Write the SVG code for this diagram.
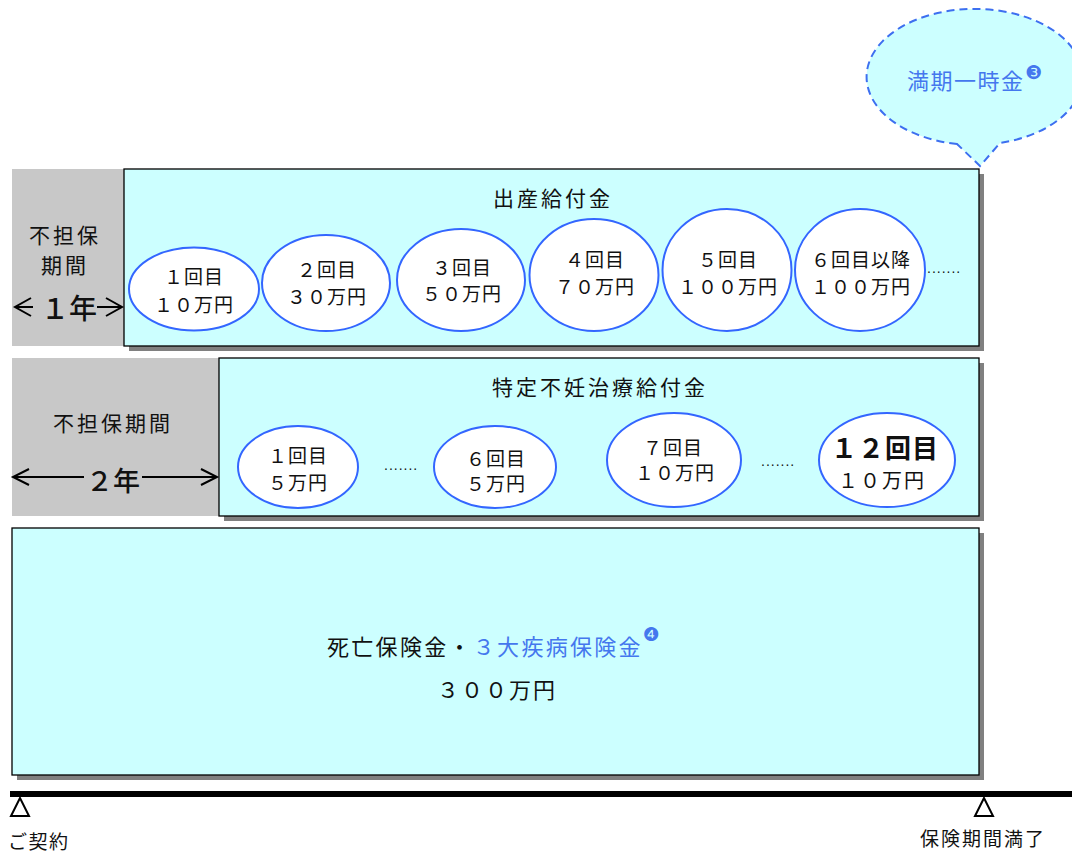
<svg xmlns="http://www.w3.org/2000/svg" width="1072" height="853" viewBox="0 0 1072 853">
<style>
.shadow{fill:#808080}
.box{fill:#CCFFFF;stroke:#000;stroke-width:1.3}
.gray{fill:#C8C8C8}
.oval{fill:#fff;stroke:#3366FF;stroke-width:2}
.t{font-family:"Noto Sans CJK JP","Noto Sans",sans-serif;fill:#111;text-anchor:middle;dominant-baseline:central}
.c{font-size:19px;letter-spacing:1px}
.h{font-size:21px;letter-spacing:3px}
.blue{fill:#4477EE}
.sup{font-family:"DejaVu Sans",sans-serif;font-size:19px;fill:#4477EE}
.dots{font-family:"Liberation Sans",sans-serif;font-size:14px;fill:#111;letter-spacing:1px}
.arr{fill:none;stroke:#000;stroke-width:2}
</style>
<rect width="1072" height="853" fill="#fff"/>

<g id="callout">
<path d="M957,144 A108,68 0 1 1 1000,143 L980,166 Z" fill="#CCFFFF" stroke="#3D6FF0" stroke-width="2" stroke-dasharray="8 5"/>
<text class="t blue" x="907" y="79" style="text-anchor:start;font-size:22px;letter-spacing:1.5px">満期一時金</text>
<text class="sup" x="1025" y="79">❸</text>
</g>

<g id="block1">
<rect class="gray" x="12" y="169" width="112" height="177"/>
<rect class="shadow" x="129" y="174" width="855" height="177"/>
<rect class="box" x="124" y="169" width="855" height="177"/>
<text class="t h" x="65" y="234">不担保</text>
<text class="t h" x="65" y="264">期間</text>
<text class="t" x="69" y="307" style="font-size:28px;font-weight:500">１年</text>
<text class="t h" x="553" y="197">出産給付金</text>
</g>
<g id="c1-1"><ellipse class="oval" cx="194" cy="289" rx="65" ry="41.5"/><text class="t c" x="194" y="275">１回目</text><text class="t c" x="194" y="303">１０万円</text></g>
<g id="c1-2"><ellipse class="oval" cx="326" cy="283" rx="64" ry="48"/><text class="t c" x="327" y="268">２回目</text><text class="t c" x="327" y="295">３０万円</text></g>
<g id="c1-3"><ellipse class="oval" cx="461" cy="280" rx="64" ry="51"/><text class="t c" x="462" y="266">３回目</text><text class="t c" x="462" y="292">５０万円</text></g>
<g id="c1-4"><ellipse class="oval" cx="594" cy="275" rx="64.5" ry="56"/><text class="t c" x="595" y="258">４回目</text><text class="t c" x="595" y="285">７０万円</text></g>
<g id="c1-5"><ellipse class="oval" cx="727" cy="270" rx="64.5" ry="61"/><text class="t c" x="728" y="258">５回目</text><text class="t c" x="728" y="285">１００万円</text></g>
<g id="c1-6"><ellipse class="oval" cx="860" cy="270" rx="65" ry="61"/><text class="t c" x="861" y="258">６回目以降</text><text class="t c" x="861" y="285">１００万円</text></g>
<text class="dots" x="927" y="273">.......</text>

<g id="block2">
<rect class="gray" x="12" y="358" width="207" height="158"/>
<rect class="shadow" x="224" y="363" width="760" height="158"/>
<rect class="box" x="219" y="358" width="760" height="158"/>
<text class="t h" x="113" y="422">不担保期間</text>
<text class="t" x="113" y="479" style="font-size:27px;font-weight:500">２年</text>
<text class="t h" x="600" y="386">特定不妊治療給付金</text>
</g>
<g id="c2-1"><ellipse class="oval" cx="298" cy="467" rx="60" ry="41"/><text class="t c" x="298" y="454">１回目</text><text class="t c" x="298" y="481">５万円</text></g>
<text class="dots" x="384" y="470">.......</text>
<g id="c2-6"><ellipse class="oval" cx="495" cy="467" rx="61" ry="41"/><text class="t c" x="496" y="457">６回目</text><text class="t c" x="496" y="482">５万円</text></g>
<g id="c2-7"><ellipse class="oval" cx="674" cy="460" rx="67" ry="47"/><text class="t c" x="673" y="446">７回目</text><text class="t c" x="675" y="471">１０万円</text></g>
<text class="dots" x="761" y="466">.......</text>
<g id="c2-12"><ellipse class="oval" cx="887" cy="460" rx="68" ry="47"/><text class="t" x="885" y="446" style="font-size:26px;font-weight:bold;letter-spacing:1px">１２回目</text><text class="t" x="882" y="479" style="font-size:20px;letter-spacing:2px">１０万円</text></g>

<g id="block3">
<rect class="shadow" x="17" y="533" width="967" height="247"/>
<rect class="box" x="12" y="528" width="967" height="247"/>
<text class="t" x="327" y="645" style="text-anchor:start;font-size:22px;letter-spacing:2.3px">死亡保険金・<tspan class="blue">３大疾病保険金</tspan></text>
<text class="sup" x="643" y="641">❹</text>
<text class="t" x="497" y="688" style="font-size:22px;letter-spacing:2px">３００万円</text>
</g>

<g id="timeline">
<rect x="10" y="791" width="1062" height="6" fill="#000"/>
<path d="M20,798 L11,816 L29,816 Z" fill="#fff" stroke="#000" stroke-width="2"/>
<path d="M984,798 L975,816 L993,816 Z" fill="#fff" stroke="#000" stroke-width="2"/>
<text class="t" x="8" y="840" style="text-anchor:start;font-size:19px;letter-spacing:1.5px">ご契約</text>
<text class="t" x="920" y="837" style="text-anchor:start;font-size:19px;letter-spacing:2px">保険期間満了</text>
</g>

<g id="connectors">
<path class="arr" d="M33,307 H16 M31,298 L15,307 L31,316"/>
<path class="arr" d="M97,307 H121 M106,298 L122,307 L106,316"/>
<path class="arr" d="M84,477 H14 M29,469 L13,477 L29,485"/>
<path class="arr" d="M142,477 H216 M201,469 L217,477 L201,485"/>
</g>
</svg>
